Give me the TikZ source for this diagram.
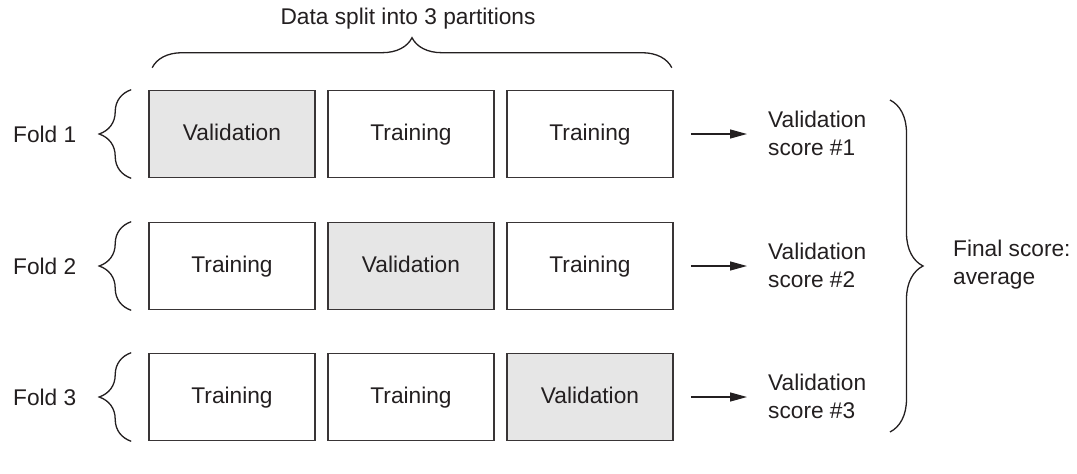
\documentclass[tikz,border=0pt]{standalone}
\usepackage{fontspec}
\setmainfont{Liberation Sans}
\usetikzlibrary{decorations.pathreplacing,arrows.meta}
\definecolor{ink}{HTML}{231F20}
\definecolor{valfill}{HTML}{E6E6E6}
\begin{document}
\begin{tikzpicture}[x=1pt,y=-1pt,
  txt/.style={text=ink, font=\fontsize{22.7}{28}\selectfont},
  part/.style={txt, draw=ink!90, line width=1.6pt, minimum width=166pt,
               minimum height=87pt, inner sep=0pt,
               text height=16.5pt, text depth=4.5pt},
  valpart/.style={part, fill=valfill},
  lbl/.style={txt, inner sep=0pt, anchor=west, align=left},
  brc/.style={draw=ink, line width=1.3pt, decorate,
              decoration={brace, amplitude=#1}},
  arr/.style={draw=ink, line width=1.3pt, -{Triangle[length=17pt,width=9pt]},
              shorten <=17pt, shorten >=21pt}
]
\useasboundingbox (0,0) rectangle (1077,474);

% partitions, one row per fold
\node[valpart] (r1c1) at (232,134) {Validation};
\node[part]    (r1c2) at (411,134) {Training};
\node[part]    (r1c3) at (590,134) {Training};
\node[part]    (r2c1) at (232,266) {Training};
\node[valpart] (r2c2) at (411,266) {Validation};
\node[part]    (r2c3) at (590,266) {Training};
\node[part]    (r3c1) at (232,397) {Training};
\node[part]    (r3c2) at (411,397) {Training};
\node[valpart] (r3c3) at (590,397) {Validation};

% fold labels
\node[lbl] (f1) at (13,134) {Fold 1};
\node[lbl] (f2) at (13,266) {Fold 2};
\node[lbl] (f3) at (13,397) {Fold 3};

% title over the partitions
\node[txt, inner sep=0pt] (title) at (408,19) {Data split into 3 partitions};

% scores
\node[lbl] (s1) at (768,133) {Validation\\score \#1};
\node[lbl] (s2) at (768,265) {Validation\\score \#2};
\node[lbl] (s3) at (768,396) {Validation\\score \#3};
\node[lbl] (final) at (953,265) {Final score:\\average};

% arrows from each fold to its score
\draw[arr] (r1c3.east) -- (r1c3.east -| s1.west);
\draw[arr] (r2c3.east) -- (r2c3.east -| s2.west);
\draw[arr] (r3c3.east) -- (r3c3.east -| s3.west);

% braces
\draw[brc=32pt] ([xshift=-17pt]r1c1.south west) -- ([xshift=-17pt]r1c1.north west);
\draw[brc=32pt] ([xshift=-17pt]r2c1.south west) -- ([xshift=-17pt]r2c1.north west);
\draw[brc=32pt] ([xshift=-17pt]r3c1.south west) -- ([xshift=-17pt]r3c1.north west);
\draw[brc=30pt] ([xshift=4pt,yshift=22pt]r1c1.north west) -- ([xshift=-2pt,yshift=22pt]r1c3.north east);
\coordinate (bt) at (890,100);
\coordinate (bb) at (890,432);
\draw[brc=33pt] (bt) -- (bb);
\end{tikzpicture}
\end{document}
